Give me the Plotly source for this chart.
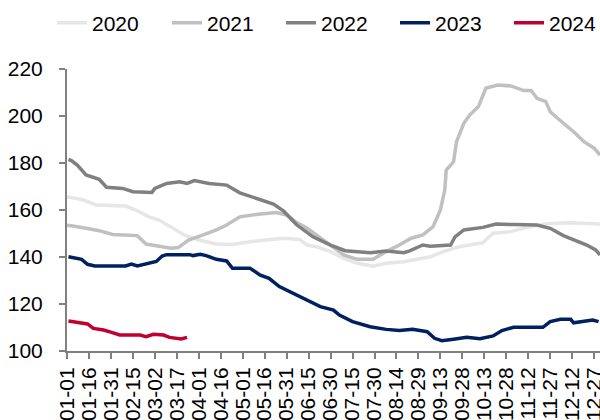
import datetime as dt
import plotly.graph_objects as go

BASE_YEAR = 2023  # non-leap reference year used only to place month-day positions

# Day offsets from 01-01 and values for each year
days_2020 = [0, 11, 20, 40, 47, 56, 63, 72, 80, 90, 102, 113, 125, 136, 148, 159, 164, 170, 180, 189,
             198, 209, 218, 230, 241, 248, 257, 268, 284, 291, 303, 316, 330, 344, 364]
vals_2020 = [165.7, 164.3, 162.1, 161.7, 160.0, 157.1, 155.7, 152.2, 149.4, 147.2, 145.5, 145.3, 146.5,
             147.2, 148.0, 147.5, 145.1, 144.4, 142.3, 139.4, 137.3, 136.1, 137.3, 138.0, 139.4, 140.1,
             142.3, 144.4, 146.1, 150.1, 150.8, 152.9, 154.3, 154.6, 154.0]

days_2021 = [0, 3, 13, 22, 31, 48, 54, 63, 71, 76, 83, 93, 102, 109, 118, 132, 143, 150, 156, 164, 175,
             189, 198, 209, 218, 227, 235, 243, 250, 255, 258, 259, 262, 264, 266, 271, 275, 281, 286,
             294, 303, 312, 317, 321, 327, 330, 339, 346, 353, 360, 364]
vals_2021 = [153.5, 153.3, 152.2, 151.2, 149.6, 149.1, 145.5, 144.7, 143.7, 144.0, 147.2, 149.4, 151.5,
             153.6, 157.1, 158.3, 158.9, 157.9, 155.0, 152.2, 147.2, 140.9, 139.0, 139.0, 142.3, 145.1,
             148.0, 149.4, 152.9, 160.0, 168.5, 177.0, 179.1, 180.5, 189.1, 196.9, 200.4, 204.0, 211.8,
             213.2, 212.8, 210.8, 210.8, 207.5, 206.1, 201.8, 196.9, 193.3, 189.1, 186.3, 183.4]

days_2022 = [1, 3, 7, 13, 22, 27, 38, 45, 58, 60, 68, 77, 82, 87, 97, 109, 118, 127, 141, 148, 157, 168,
             180, 190, 207, 218, 230, 234, 243, 248, 262, 265, 271, 284, 293, 306, 321, 330, 339, 355,
             361, 364]
vals_2022 = [181.5, 181.0, 179.1, 174.9, 173.1, 169.7, 169.2, 167.8, 167.5, 169.2, 171.3, 172.0, 171.3,
             172.5, 171.3, 170.6, 167.3, 165.5, 162.5, 159.5, 153.6, 148.6, 145.1, 142.7, 141.8, 142.6,
             141.8, 142.6, 145.1, 144.6, 145.1, 148.6, 151.5, 152.6, 154.0, 153.8, 153.6, 152.2, 149.1,
             145.1, 143.0, 140.9]

days_2023 = [1, 10, 14, 19, 40, 44, 48, 54, 61, 65, 68, 84, 86, 91, 95, 102, 109, 113, 125, 132, 138,
             145, 154, 168, 173, 182, 186, 195, 207, 218, 227, 236, 246, 251, 256, 264, 273, 282, 291,
             297, 305, 325, 330, 337, 344, 346, 355, 359, 363]
vals_2023 = [140.1, 139.0, 136.9, 136.2, 136.2, 137.0, 136.2, 137.0, 138.1, 140.4, 141.0, 141.0, 140.6,
             141.2, 140.6, 139.0, 138.3, 135.2, 135.2, 132.3, 130.9, 127.4, 124.6, 120.3, 118.9, 117.4,
             115.3, 112.5, 110.3, 109.2, 108.7, 109.2, 108.2, 105.4, 104.4, 105.0, 105.8, 105.2, 106.4,
             108.7, 110.1, 110.1, 112.5, 113.5, 113.5, 112.0, 112.9, 113.2, 112.5]

days_2024 = [1, 10, 14, 18, 25, 31, 36, 50, 54, 59, 66, 70, 78, 82]
vals_2024 = [112.8, 112.1, 111.5, 109.6, 108.9, 107.8, 106.8, 106.8, 106.1, 107.1, 106.8, 105.8, 105.1,
             105.8]

series_names = ["2020", "2021", "2022", "2023", "2024"]
series_days = [days_2020, days_2021, days_2022, days_2023, days_2024]
series_vals = [vals_2020, vals_2021, vals_2022, vals_2023, vals_2024]
series_colors = ["#E6E6E6", "#C0C0C0", "#808080", "#002060", "#C00030"]

y_ticks = [100, 120, 140, 160, 180, 200, 220]

W, H = 600, 420
base = dt.date(BASE_YEAR, 1, 1)


def to_dates(ds):
    return [(base + dt.timedelta(days=d)).isoformat() for d in ds]


# one legend per series so every entry can sit where the reference puts it
legend_left_px = [52, 167, 281, 395, 509]
legend_ids = ["legend", "legend2", "legend3", "legend4", "legend5"]

fig = go.Figure()
for name, ds, vs, col, lid in zip(series_names, series_days, series_vals, series_colors, legend_ids):
    fig.add_trace(go.Scatter(x=to_dates(ds), y=vs, mode="lines", name=name, legend=lid,
                             line=dict(color=col, width=3.5)))

font_family = "Liberation Sans, Arial, sans-serif"
legend_layout = {}
for lid, lx in zip(legend_ids, legend_left_px):
    legend_layout[lid] = dict(orientation="h", xref="container", yref="container",
                              x=lx / W, y=1 - 23 / H, xanchor="left", yanchor="middle",
                              font=dict(size=21, family=font_family, color="#000000"),
                              itemwidth=30, bgcolor="rgba(0,0,0,0)")

fig.update_layout(
    width=W, height=H,
    margin=dict(l=67, r=0, t=69, b=69, autoexpand=False),
    plot_bgcolor="white", paper_bgcolor="white",
    font=dict(family=font_family, size=21, color="#000000"),
    showlegend=True,
    xaxis=dict(type="date", automargin=False,
               range=[base.isoformat(), (base + dt.timedelta(days=364.3)).isoformat()],
               tick0=base.isoformat(), dtick=15 * 86400000, tickformat="%m-%d",
               tickangle=-90, showgrid=False, zeroline=False, ticklabeloverflow="allow",
               showline=True, linecolor="#808080", linewidth=2,
               ticks="outside", ticklen=6, tickwidth=2, tickcolor="#808080",
               tickfont=dict(size=21)),
    yaxis=dict(range=[100, 220], tickvals=y_ticks, showgrid=False, zeroline=False,
               automargin=False,
               showline=True, linecolor="#808080", linewidth=2,
               ticks="outside", ticklen=6, tickwidth=2, tickcolor="#808080",
               tickfont=dict(size=21), ticklabelstandoff=12),
    **legend_layout,
)

fig.write_html("out.html", config={"displayModeBar": False},
               post_script="document.body.style.margin='0px';")
